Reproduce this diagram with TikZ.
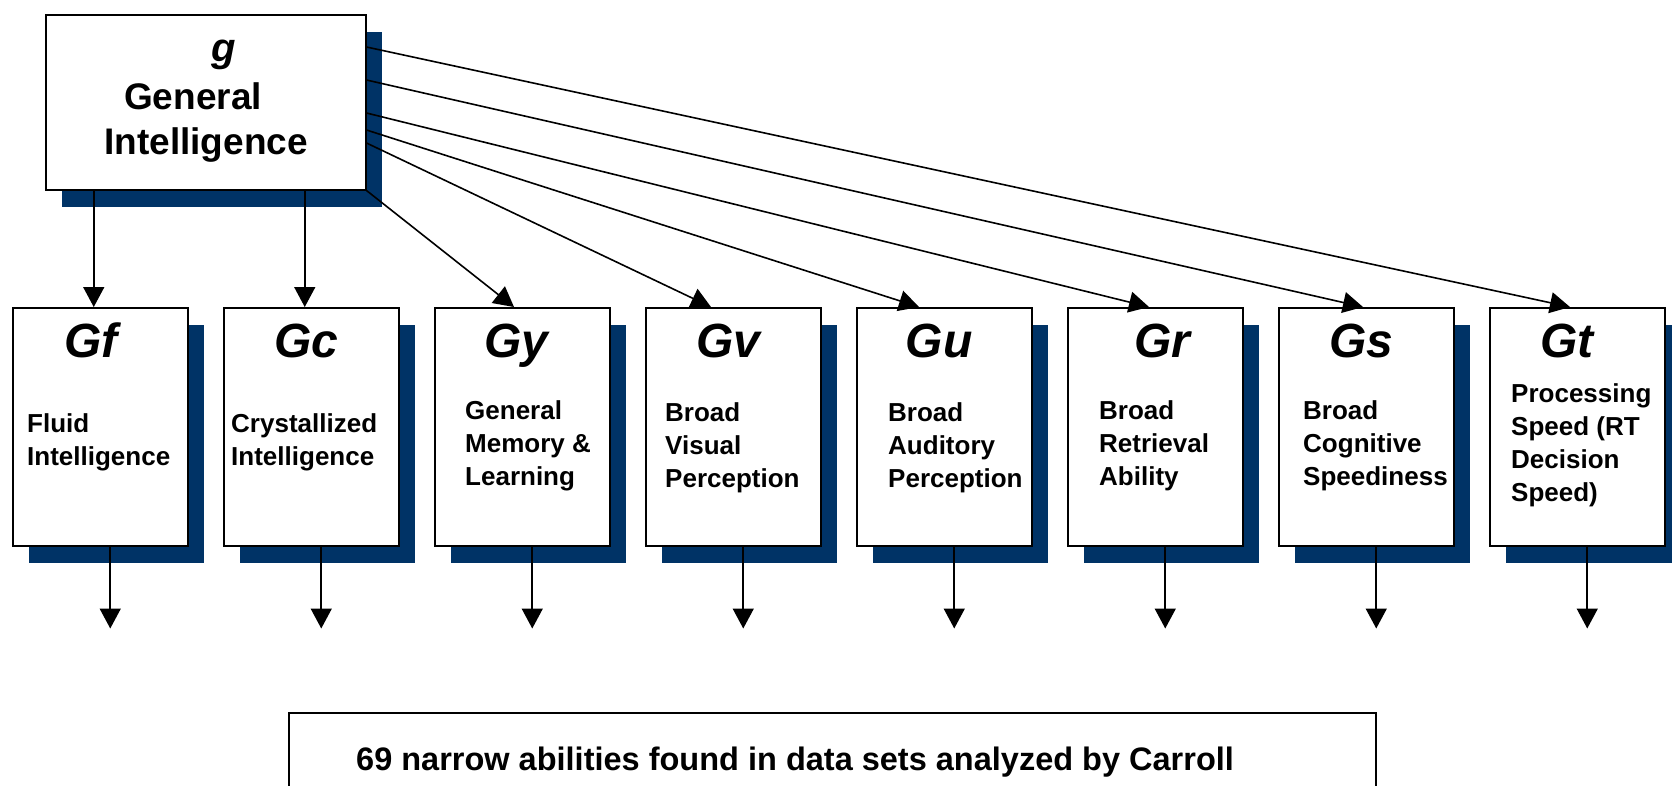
\documentclass[tikz,border=0pt]{standalone}
\usepackage{fontspec}
\setmainfont{Liberation Sans}
\usetikzlibrary{calc,arrows.meta,shadows}
\definecolor{navy}{RGB}{0,51,102}
\tikzset{
	navyshadow/.style={drop shadow={shadow xshift=16pt, shadow yshift=-17pt, fill=navy, opacity=1}},
	gbox/.style={draw, line width=1.5pt, fill=white, inner sep=0pt, anchor=north west, minimum width=320pt, minimum height=175pt, navyshadow},
	abox/.style={draw, line width=1.5pt, fill=white, inner sep=0pt, anchor=north west, minimum width=175pt, minimum height=238pt, navyshadow},
	cbox/.style={draw, line width=1.5pt, fill=white, inner sep=0pt, anchor=north west, minimum width=1087pt, minimum height=150pt},
	gsym/.style={font=\fontsize{40}{40}\selectfont\bfseries\itshape, anchor=base, inner sep=0pt},
	glab/.style={font=\fontsize{37}{44}\selectfont\bfseries, anchor=base, inner sep=0pt},
	gtitle/.style={font=\fontsize{48}{48}\selectfont\bfseries\itshape, anchor=base, inner sep=0pt},
	gtext/.style={font=\fontsize{26}{33}\selectfont\bfseries, align=left, anchor=north west, inner sep=0pt},
	ctext/.style={font=\fontsize{32.5}{36}\selectfont\bfseries, anchor=base west, inner sep=0pt},
	arr/.style={line width=1.6pt, -{Triangle[length=20pt,width=21pt]}}
}

\begin{document}
\begin{tikzpicture}[x=1pt,y=-1pt]
			%%%%% START %%%%%
			\useasboundingbox (0,0) rectangle (1672,785);
			\clip (0,0) rectangle (1672,785);
			
			\node[gbox] (gen) at (45,14) {};
			\node[gsym] (gsym) at (224,61) {g};
			\node[glab] (glabA) at (193,109) {General};
			\node[glab] (glabB) at (206,154) {Intelligence};
			
			\node[abox] (Gf) at (12,307) {};
			\node[gtitle] (tGf) at ($(Gf.north)+(-9,50)$) {Gf};
			\node[gtext] (xGf) at ($(Gf.north west)+(15,106)$) {Fluid\\Intelligence};
			
			\node[abox] (Gc) at (223,307) {};
			\node[gtitle] (tGc) at ($(Gc.north)+(-5,50)$) {Gc};
			\node[gtext] (xGc) at ($(Gc.north west)+(8,106)$) {Crystallized\\Intelligence};
			
			\node[abox] (Gy) at (434,307) {};
			\node[gtitle] (tGy) at ($(Gy.north)+(-6,50)$) {Gy};
			\node[gtext] (xGy) at ($(Gy.north west)+(31,93)$) {General\\Memory \&\\Learning};
			
			\node[abox] (Gv) at (645,307) {};
			\node[gtitle] (tGv) at ($(Gv.north)+(-5,50)$) {Gv};
			\node[gtext] (xGv) at ($(Gv.north west)+(20,95)$) {Broad\\Visual\\Perception};
			
			\node[abox] (Gu) at (856,307) {};
			\node[gtitle] (tGu) at ($(Gu.north)+(-5,50)$) {Gu};
			\node[gtext] (xGu) at ($(Gu.north west)+(32,95)$) {Broad\\Auditory\\Perception};
			
			\node[abox] (Gr) at (1067,307) {};
			\node[gtitle] (tGr) at ($(Gr.north)+(7,50)$) {Gr};
			\node[gtext] (xGr) at ($(Gr.north west)+(32,93)$) {Broad\\Retrieval\\Ability};
			
			\node[abox] (Gs) at (1278,307) {};
			\node[gtitle] (tGs) at ($(Gs.north)+(-5,50)$) {Gs};
			\node[gtext] (xGs) at ($(Gs.north west)+(25,93)$) {Broad\\Cognitive\\Speediness};
			
			\node[abox] (Gt) at (1489,307) {};
			\node[gtitle] (tGt) at ($(Gt.north)+(-10,50)$) {Gt};
			\node[gtext] (xGt) at ($(Gt.north west)+(22,76)$) {Processing\\Speed (RT\\Decision\\Speed)};
			
			% g to the broad abilities
			\coordinate (fTop) at ([xshift=-6.5pt]Gf.north);
			\coordinate (cTop) at ([xshift=-6.5pt]Gc.north);
			\draw[arr] (fTop |- gen.south) -- (fTop);
			\draw[arr] (cTop |- gen.south) -- (cTop);
			\draw[arr] (gen.south east) -- ($(Gy.north west)+(80,0)$);
			\draw[arr] ($(gen.north east)+(0,129)$) -- ($(Gv.north west)+(66,0)$);
			\draw[arr] ($(gen.north east)+(0,116)$) -- ($(Gu.north west)+(63,0)$);
			\draw[arr] ($(gen.north east)+(0,99)$) -- ($(Gr.north west)+(82,0)$);
			\draw[arr] ($(gen.north east)+(0,66)$) -- ($(Gs.north west)+(85,0)$);
			\draw[arr] ($(gen.north east)+(0,33)$) -- ($(Gt.north west)+(81,0)$);
			
			% down to the narrow abilities
			\draw[arr] ([xshift=10pt]Gf.south) -- ++(0,82);
			\draw[arr] ([xshift=10pt]Gc.south) -- ++(0,82);
			\draw[arr] ([xshift=10pt]Gy.south) -- ++(0,82);
			\draw[arr] ([xshift=10pt]Gv.south) -- ++(0,82);
			\draw[arr] ([xshift=10pt]Gu.south) -- ++(0,82);
			\draw[arr] ([xshift=10pt]Gr.south) -- ++(0,82);
			\draw[arr] ([xshift=10pt]Gs.south) -- ++(0,82);
			\draw[arr] ([xshift=10pt]Gt.south) -- ++(0,82);
			
			\node[cbox] (narrow) at (288,712) {};
			\node[ctext] (ntext) at (356,770) {69 narrow abilities found in data sets analyzed by Carroll};
			
			%%%%% END %%%%%
\end{tikzpicture}
\end{document}
